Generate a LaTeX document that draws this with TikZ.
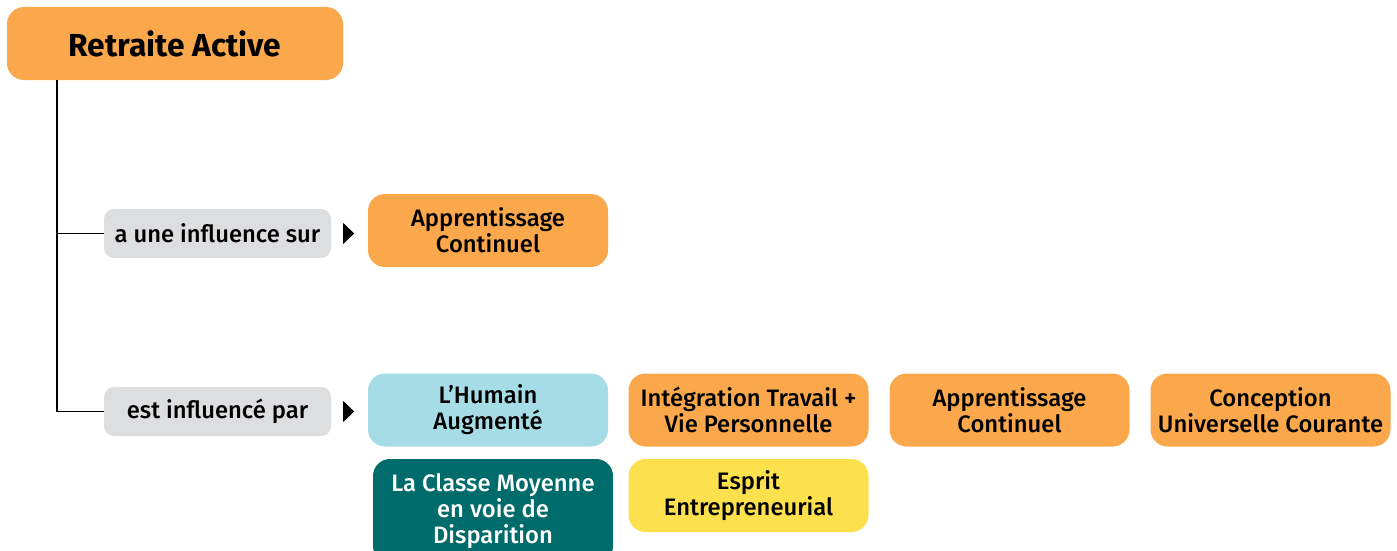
\documentclass[tikz,border=0pt]{standalone}
\usepackage{fontspec}
\setmainfont{Fira Sans}[UprightFont={* Medium}, BoldFont={* Bold}]
\definecolor{orng}{HTML}{FAA84B}
\definecolor{lblue}{HTML}{A5DCE5}
\definecolor{teal}{HTML}{006B6B}
\definecolor{yell}{HTML}{FDE04E}
\definecolor{lgray}{HTML}{DDDEE0}
\tikzset{
  cbox/.style={rounded corners=17pt, minimum width=240pt, minimum height=73pt, align=center, inner sep=0pt, font=\fontsize{23.8}{26}\selectfont, text=black},
  relbox/.style={rounded corners=10pt, fill=lgray, minimum width=227pt, minimum height=49pt, inner sep=0pt, font=\fontsize{23.8}{26}\selectfont, text=black},
  conn/.style={line width=1.2pt, black},
  tip/.style={fill=black}
}
\begin{document}
\begin{tikzpicture}[x=1pt,y=-1pt]
\useasboundingbox (0,0) rectangle (1397,551);
\clip (0,0) rectangle (1397,551);
\node[cbox, fill=orng, minimum width=336pt, font=\fontsize{31.8}{36}\selectfont\bfseries] (title) at (175,43.5) {Retraite Active};
\coordinate (trunk) at (57,80);
\node[relbox] (g1) at (217.5,233.5) {a une influence sur};
\node[relbox] (g2) at (217.5,411.5) {est influencé par};
\draw[conn] (trunk) |- (g1.west);
\draw[conn] (trunk) |- (g2.west);
\node[cbox, fill=orng] (a1) at (488,230.5) {Apprentissage\\Continuel};
\fill[tip] ([xshift=12pt,yshift=10.5pt]g1.east) -- ++(11,10.5) -- ++(-11,10.5) -- cycle;
\fill[tip] ([xshift=12pt,yshift=10.5pt]g2.east) -- ++(11,10.5) -- ++(-11,10.5) -- cycle;
\node[cbox, fill=lblue] (b1) at (488,410) {L’Humain\\Augmenté};
\node[cbox, fill=orng] (b2) at (748.5,410) {Intégration Travail +\\Vie Personnelle};
\node[cbox, fill=orng] (b3) at (1009.5,410) {Apprentissage\\Continuel};
\node[cbox, fill=orng] (b4) at (1270.5,410) {Conception\\Universelle Courante};
\node[cbox, fill=teal, text=white, minimum height=104pt] (c1) at (493,511) {La Classe Moyenne\\en voie de\\Disparition};
\node[cbox, fill=yell] (c2) at (748.5,495.5) {Esprit\\Entrepreneurial};
\end{tikzpicture}
\end{document}
